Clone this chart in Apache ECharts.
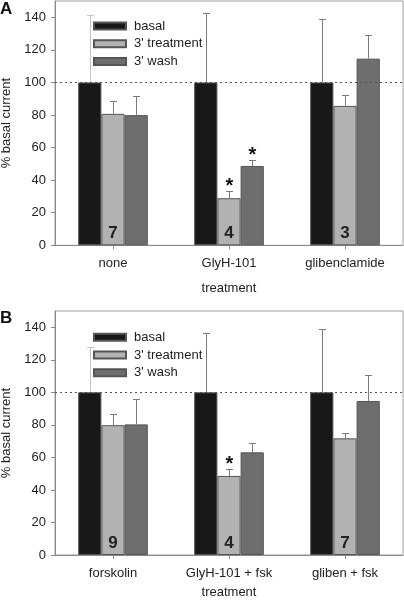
<!DOCTYPE html>
<html>
<head>
<meta charset="utf-8">
<script src="https://cdn.jsdelivr.net/npm/echarts@6/dist/echarts.min.js"></script>
<style>html,body{margin:0;padding:0;background:#fff;}#c{width:404px;height:603px;}</style>
</head>
<body>
<div id="c"></div>
<script>
const categoriesA = ['none', 'GlyH-101', 'glibenclamide'];
const categoriesB = ['forskolin', 'GlyH-101 + fsk', 'gliben + fsk'];
const seriesNames = ['basal', "3' treatment", "3' wash"];
const yTicks = [0, 20, 40, 60, 80, 100, 120, 140];

// Panel A
const basalA = [100, 100, 100];
const basalErrA = [41.6, 42.5, 38.8];
const treatA = [80.7, 28.9, 85.6];
const treatErrA = [7.8, 4.5, 6.5];
const washA = [79.9, 48.7, 114.6];
const washErrA = [12.0, 3.9, 14.8];
const nA = [7, 4, 3];
const sigTreatA = [0, 1, 0];
const sigWashA = [0, 1, 0];

// Panel B
const basalB = [100, 100, 100];
const basalErrB = [28.0, 36.6, 38.7];
const treatB = [79.8, 48.6, 71.7];
const treatErrB = [6.7, 4.1, 3.1];
const washB = [80.3, 63.1, 94.7];
const washErrB = [15.6, 6.0, 16.1];
const nB = [9, 4, 7];
const sigTreatB = [0, 1, 0];
const sigWashB = [0, 0, 0];

const FONT = '"Liberation Sans", Arial, sans-serif';
const colors = ['#181818', '#b2b2b2', '#6e6e6e'];

function errData(vals, errs, sigs, k) {
  return vals.map((v, i) => [i, v, errs[i], k, (k === 0 && i === 0) ? 1 : 0, sigs ? sigs[i] : 0]);
}

function errRender(params, api) {
  const cat = api.value(0), val = api.value(1), err = api.value(2), k = api.value(3);
  const base = api.coord([cat, val]);
  const top = api.coord([cat, val + err]);
  const band = api.size([1, 0])[0];
  const bw = band * 0.6 / 3;
  const x = Math.round(base[0] + (k - 1) * bw) + 0.5;
  const yt = Math.round(top[1]) + 0.5;
  const cap = 3.5;
  const color = api.value(4) ? '#c4c4c4' : '#7c7c7c';
  const children = [
    { type: 'line', shape: { x1: x, y1: base[1], x2: x, y2: yt }, style: { stroke: color, lineWidth: 1 } },
    { type: 'line', shape: { x1: x - cap, y1: yt, x2: x + cap, y2: yt }, style: { stroke: color, lineWidth: 1 } }
  ];
  if (api.value(5)) {
    children.push({ type: 'text', style: { text: '*', x: x, y: yt - 5, align: 'center', verticalAlign: 'middle', font: 'bold 20px ' + FONT, fill: '#111' } });
  }
  return { type: 'group', children: children };
}

function barSeries(name, data, idx, color, extra) {
  return Object.assign({
    name: name, type: 'bar', xAxisIndex: idx, yAxisIndex: idx, data: data,
    barGap: '0%', barCategoryGap: '40%',
    itemStyle: { color: color, borderColor: '#555', borderWidth: 1 },
    emphasis: { disabled: true }
  }, extra || {});
}

function nLabel(arr) {
  return { show: true, position: 'insideBottom', distance: 3, formatter: p => String(arr[p.dataIndex]), fontFamily: FONT, fontWeight: 'bold', fontSize: 17, color: '#222' };
}

const refLine = { silent: true, symbol: 'none', label: { show: false }, lineStyle: { type: [2, 3], color: '#555', width: 1 }, data: [{ yAxis: 100 }] };

function yAxisCfg(idx) {
  return {
    gridIndex: idx, type: 'value', min: 0, max: 150, interval: 20,
    name: '% basal current', nameLocation: 'middle', nameRotate: 90, nameGap: 38,
    nameTextStyle: { fontFamily: FONT, fontSize: 13, color: '#222' },
    axisLine: { show: true, lineStyle: { color: '#8a8a8a' } },
    axisTick: { show: true, length: 4, lineStyle: { color: '#8a8a8a' } },
    axisLabel: { showMaxLabel: false, margin: 9, fontFamily: FONT, fontSize: 13, color: '#222', formatter: v => yTicks.indexOf(v) >= 0 ? String(v) : '' },
    splitLine: { show: false }
  };
}

function xAxisCfg(idx, cats, gap) {
  return {
    gridIndex: idx, type: 'category', data: cats,
    name: 'treatment', nameLocation: 'middle', nameGap: gap,
    nameTextStyle: { fontFamily: FONT, fontSize: 13, color: '#222' },
    axisLine: { show: true, lineStyle: { color: '#8a8a8a' } },
    axisTick: { show: true, alignWithLabel: true, length: 4, lineStyle: { color: '#8a8a8a' } },
    axisLabel: { margin: 12, fontFamily: FONT, fontSize: 13, color: '#222' }
  };
}

function legendCfg(top) {
  return {
    orient: 'vertical', left: 93, top: top, padding: 0,
    icon: 'rect',
    itemWidth: 32, itemHeight: 7, itemGap: 2.7,
    selectedMode: false,
    data: seriesNames,
    textStyle: { fontFamily: FONT, fontSize: 13, color: '#222', lineHeight: 15, padding: [0, 0, 0, 3] }
  };
}

const chart = echarts.init(document.getElementById('c'), null, { renderer: 'canvas' });
chart.setOption({
  animation: false,
  backgroundColor: '#fff',
  grid: [
    { left: 55, top: 1, width: 348, height: 244.3, show: true, borderColor: '#a0a0a0', borderWidth: 1, backgroundColor: 'transparent', containLabel: false, outerBoundsMode: 'none' },
    { left: 55, top: 311, width: 348, height: 244, show: true, borderColor: '#a0a0a0', borderWidth: 1, backgroundColor: 'transparent', containLabel: false, outerBoundsMode: 'none' }
  ],
  xAxis: [xAxisCfg(0, categoriesA, 37), xAxisCfg(1, categoriesB, 31)],
  yAxis: [yAxisCfg(0), yAxisCfg(1)],
  legend: [legendCfg(18.5), legendCfg(329.8)],
  graphic: [
    { type: 'text', left: 0, top: 1, style: { text: 'A', font: 'bold 17px ' + FONT, fill: '#111' } },
    { type: 'text', left: 0, top: 310, style: { text: 'B', font: 'bold 17px ' + FONT, fill: '#111' } }
  ],
  series: [
    barSeries(seriesNames[0], basalA, 0, colors[0], { markLine: refLine }),
    barSeries(seriesNames[1], treatA, 0, colors[1], { label: nLabel(nA) }),
    barSeries(seriesNames[2], washA, 0, colors[2]),
    barSeries(seriesNames[0], basalB, 1, colors[0], { markLine: refLine }),
    barSeries(seriesNames[1], treatB, 1, colors[1], { label: nLabel(nB) }),
    barSeries(seriesNames[2], washB, 1, colors[2]),
    { type: 'custom', xAxisIndex: 0, yAxisIndex: 0, renderItem: errRender, silent: true, z: 3,
      data: [].concat(errData(basalA, basalErrA, null, 0), errData(treatA, treatErrA, sigTreatA, 1), errData(washA, washErrA, sigWashA, 2)) },
    { type: 'custom', xAxisIndex: 1, yAxisIndex: 1, renderItem: errRender, silent: true, z: 3,
      data: [].concat(errData(basalB, basalErrB, null, 0), errData(treatB, treatErrB, sigTreatB, 1), errData(washB, washErrB, sigWashB, 2)) }
  ]
});
</script>
</body>
</html>
